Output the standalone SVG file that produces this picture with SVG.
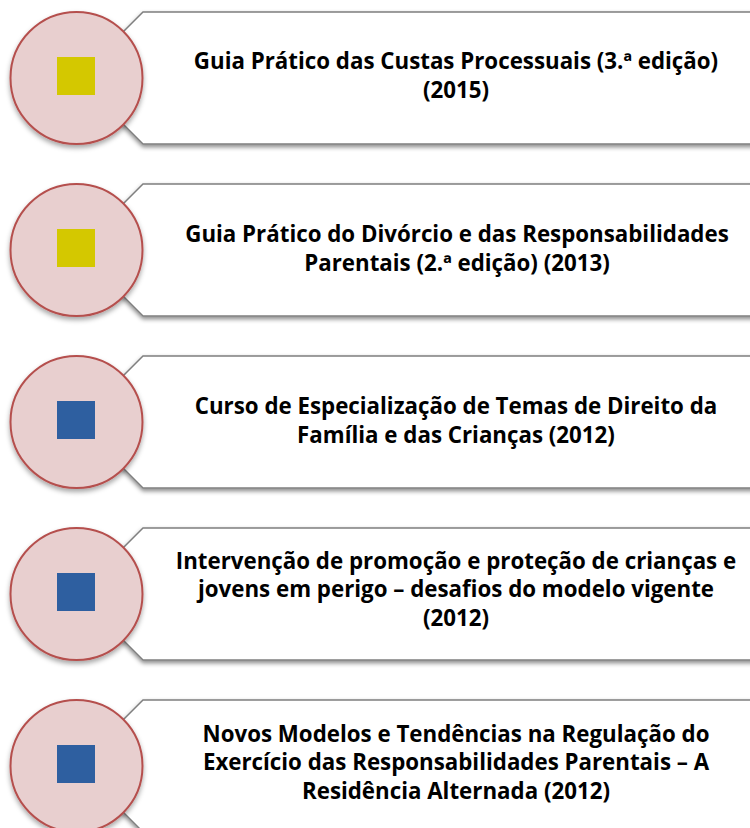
<svg xmlns="http://www.w3.org/2000/svg" width="750" height="828" viewBox="0 0 750 828">
<defs>
<filter id="sh" x="-20%" y="-20%" width="140%" height="150%">
<feDropShadow dx="0" dy="2.5" stdDeviation="2" flood-color="#000" flood-opacity="0.45"/>
</filter>
<filter id="csh" x="-20%" y="-20%" width="140%" height="150%">
<feDropShadow dx="0" dy="3" stdDeviation="2.5" flood-color="#000" flood-opacity="0.35"/>
</filter>
</defs>
<style>
.box{fill:#ffffff;stroke:#7f7f7f;stroke-width:1.5;filter:url(#sh)}
.circ{fill:#e8cfcf;stroke:#b54f4d;stroke-width:2;filter:url(#csh)}
.y{fill:#d4c800}
.b{fill:#2e5fa0}
text{font-family:"Open Sans","Liberation Sans",Arial,sans-serif;font-weight:bold;font-size:22.3px;fill:#000;text-anchor:middle}
</style>
<g id="connectors"></g>

<g id="node1">
<polygon class="box" points="143,12 760,12 760,144 143,144 77,78"/>
<circle class="circ" cx="76.5" cy="78" r="66"/>
<rect class="y" x="57" y="57" width="38" height="38"/>
<text x="456" y="69">Guia Prático das Custas Processuais (3.ª edição)</text>
<text x="456" y="98">(2015)</text>
</g>

<g id="node2">
<polygon class="box" points="143,184 760,184 760,316 143,316 77,250"/>
<circle class="circ" cx="76.5" cy="250" r="66"/>
<rect class="y" x="57" y="229" width="38" height="38"/>
<text x="457" y="242">Guia Prático do Divórcio e das Responsabilidades</text>
<text x="457" y="271">Parentais (2.ª edição) (2013)</text>
</g>

<g id="node3">
<polygon class="box" points="143,356 760,356 760,488 143,488 77,422"/>
<circle class="circ" cx="76.5" cy="422" r="66"/>
<rect class="b" x="57" y="401" width="38" height="38"/>
<text x="456" y="414">Curso de Especialização de Temas de Direito da</text>
<text x="456" y="443">Família e das Crianças (2012)</text>
</g>

<g id="node4">
<polygon class="box" points="143,528 760,528 760,660 143,660 77,594"/>
<circle class="circ" cx="76.5" cy="594" r="66"/>
<rect class="b" x="57" y="573" width="38" height="38"/>
<text x="456" y="568.5">Intervenção de promoção e proteção de crianças e</text>
<text x="456" y="597">jovens em perigo – desafios do modelo vigente</text>
<text x="456" y="625.5">(2012)</text>
</g>

<g id="node5">
<polygon class="box" points="143,700 760,700 760,832 143,832 77,766"/>
<circle class="circ" cx="76.5" cy="766" r="66"/>
<rect class="b" x="57" y="745" width="38" height="38"/>
<text x="456" y="741.5">Novos Modelos e Tendências na Regulação do</text>
<text x="456" y="770">Exercício das Responsabilidades Parentais – A</text>
<text x="456" y="798.5">Residência Alternada (2012)</text>
</g>
</svg>
